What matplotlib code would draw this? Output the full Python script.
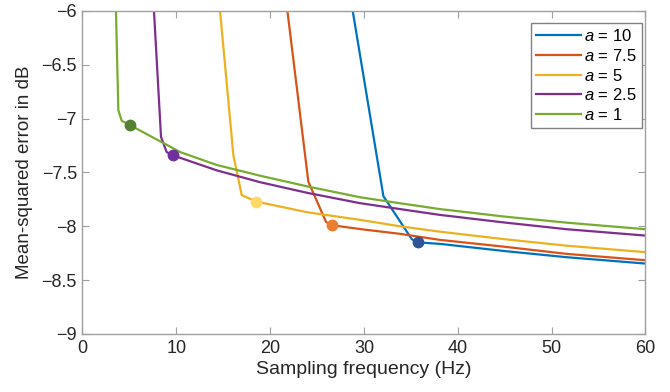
import matplotlib
matplotlib.use("Agg")
import matplotlib.pyplot as plt

plt.rcParams['font.family'] = ['Liberation Sans', 'DejaVu Sans']
plt.rcParams['mathtext.fontset'] = 'custom'
plt.rcParams['mathtext.it'] = 'Liberation Sans:italic'
plt.rcParams['mathtext.rm'] = 'Liberation Sans'

labels = ['10', '7.5', '5', '2.5', '1']

x_a10 = [28.8, 32.07, 35.1, 35.8, 38.1, 45.0, 51.6, 60.0]
y_a10 = [-6.0, -7.72, -8.12, -8.15, -8.163, -8.23, -8.287, -8.346]

x_a75 = [21.84, 24.07, 25.96, 26.57, 30.0, 33.85, 38.1, 45.0, 51.6, 60.0]
y_a75 = [-6.0, -7.585, -7.96, -7.99, -8.03, -8.07, -8.126, -8.19, -8.256, -8.315]

x_a5 = [14.66, 16.08, 16.97, 18.5, 24.0, 29.58, 33.85, 38.1, 45.0, 51.6, 60.0]
y_a5 = [-6.0, -7.34, -7.71, -7.77, -7.87, -7.94, -8.0, -8.05, -8.12, -8.18, -8.24]

x_a25 = [7.62, 8.37, 8.97, 9.61, 14.3, 18.92, 24.0, 29.58, 33.85, 38.1, 45.0, 51.6, 60.0]
y_a25 = [-6.0, -7.17, -7.31, -7.34, -7.48, -7.59, -7.69, -7.785, -7.84, -7.894, -7.965, -8.027, -8.086]

x_a1 = [3.57, 3.82, 4.18, 5.06, 10.4, 14.3, 18.92, 24.0, 29.58, 33.85, 38.1, 45.0, 51.6, 60.0]
y_a1 = [-6.0, -6.92, -7.02, -7.06, -7.31, -7.43, -7.53, -7.63, -7.73, -7.786, -7.84, -7.91, -7.966, -8.027]

# marker (knee) positions
mx = [35.8, 26.57, 18.5, 9.61, 5.06]
my = [-8.15, -7.99, -7.77, -7.34, -7.06]

line_colors = ['#0072BD', '#D95319', '#EDB120', '#7E2F8E', '#77AC30']
marker_colors = ['#2F5597', '#ED7D31', '#FFD966', '#7030A0', '#548235']

xs = [x_a10, x_a75, x_a5, x_a25, x_a1]
ys = [y_a10, y_a75, y_a5, y_a25, y_a1]

fig = plt.figure(figsize=(6.7, 3.92), dpi=100)
ax = fig.add_axes([0.1231, 0.148, 0.8403, 0.824])

for x, y, c, lab in zip(xs, ys, line_colors, labels):
    ax.plot(x, y, color=c, lw=1.6, label=r'$a$ = ' + lab, zorder=2)
for x, y, c in zip(mx, my, marker_colors):
    ax.plot([x], [y], 'o', color=c, ms=7.5, zorder=3)

ax.set_xlim(0, 60)
ax.set_ylim(-9, -6)
ax.set_xticks([0, 10, 20, 30, 40, 50, 60])
ax.set_yticks([-9, -8.5, -8, -7.5, -7, -6.5, -6])
ax.set_yticklabels(['\u22129', '\u22128.5', '\u22128', '\u22127.5', '\u22127', '\u22126.5', '\u22126'])

spine_c = '#A0A0A0'
for s in ax.spines.values():
    s.set_color(spine_c)
    s.set_linewidth(1.0)
ax.tick_params(direction='in', length=5, width=0.8, color=spine_c,
               labelsize=13, labelcolor='#262626', top=True, right=True,
               labeltop=False, labelright=False, pad=4)
ax.set_xlabel('Sampling frequency (Hz)', fontsize=14, color='#262626', labelpad=3)
ax.set_ylabel('Mean-squared error in dB', fontsize=13.5, color='#262626', labelpad=6)

leg = ax.legend(loc='upper right', fontsize=12, handlelength=2.7, handletextpad=0.2,
                borderpad=0.3, labelspacing=0.22, borderaxespad=0, fancybox=False,
                framealpha=1, edgecolor='#808080', bbox_to_anchor=(0.993, 0.962))
leg.get_frame().set_linewidth(1.0)

fig.savefig('out.png', dpi=100)
